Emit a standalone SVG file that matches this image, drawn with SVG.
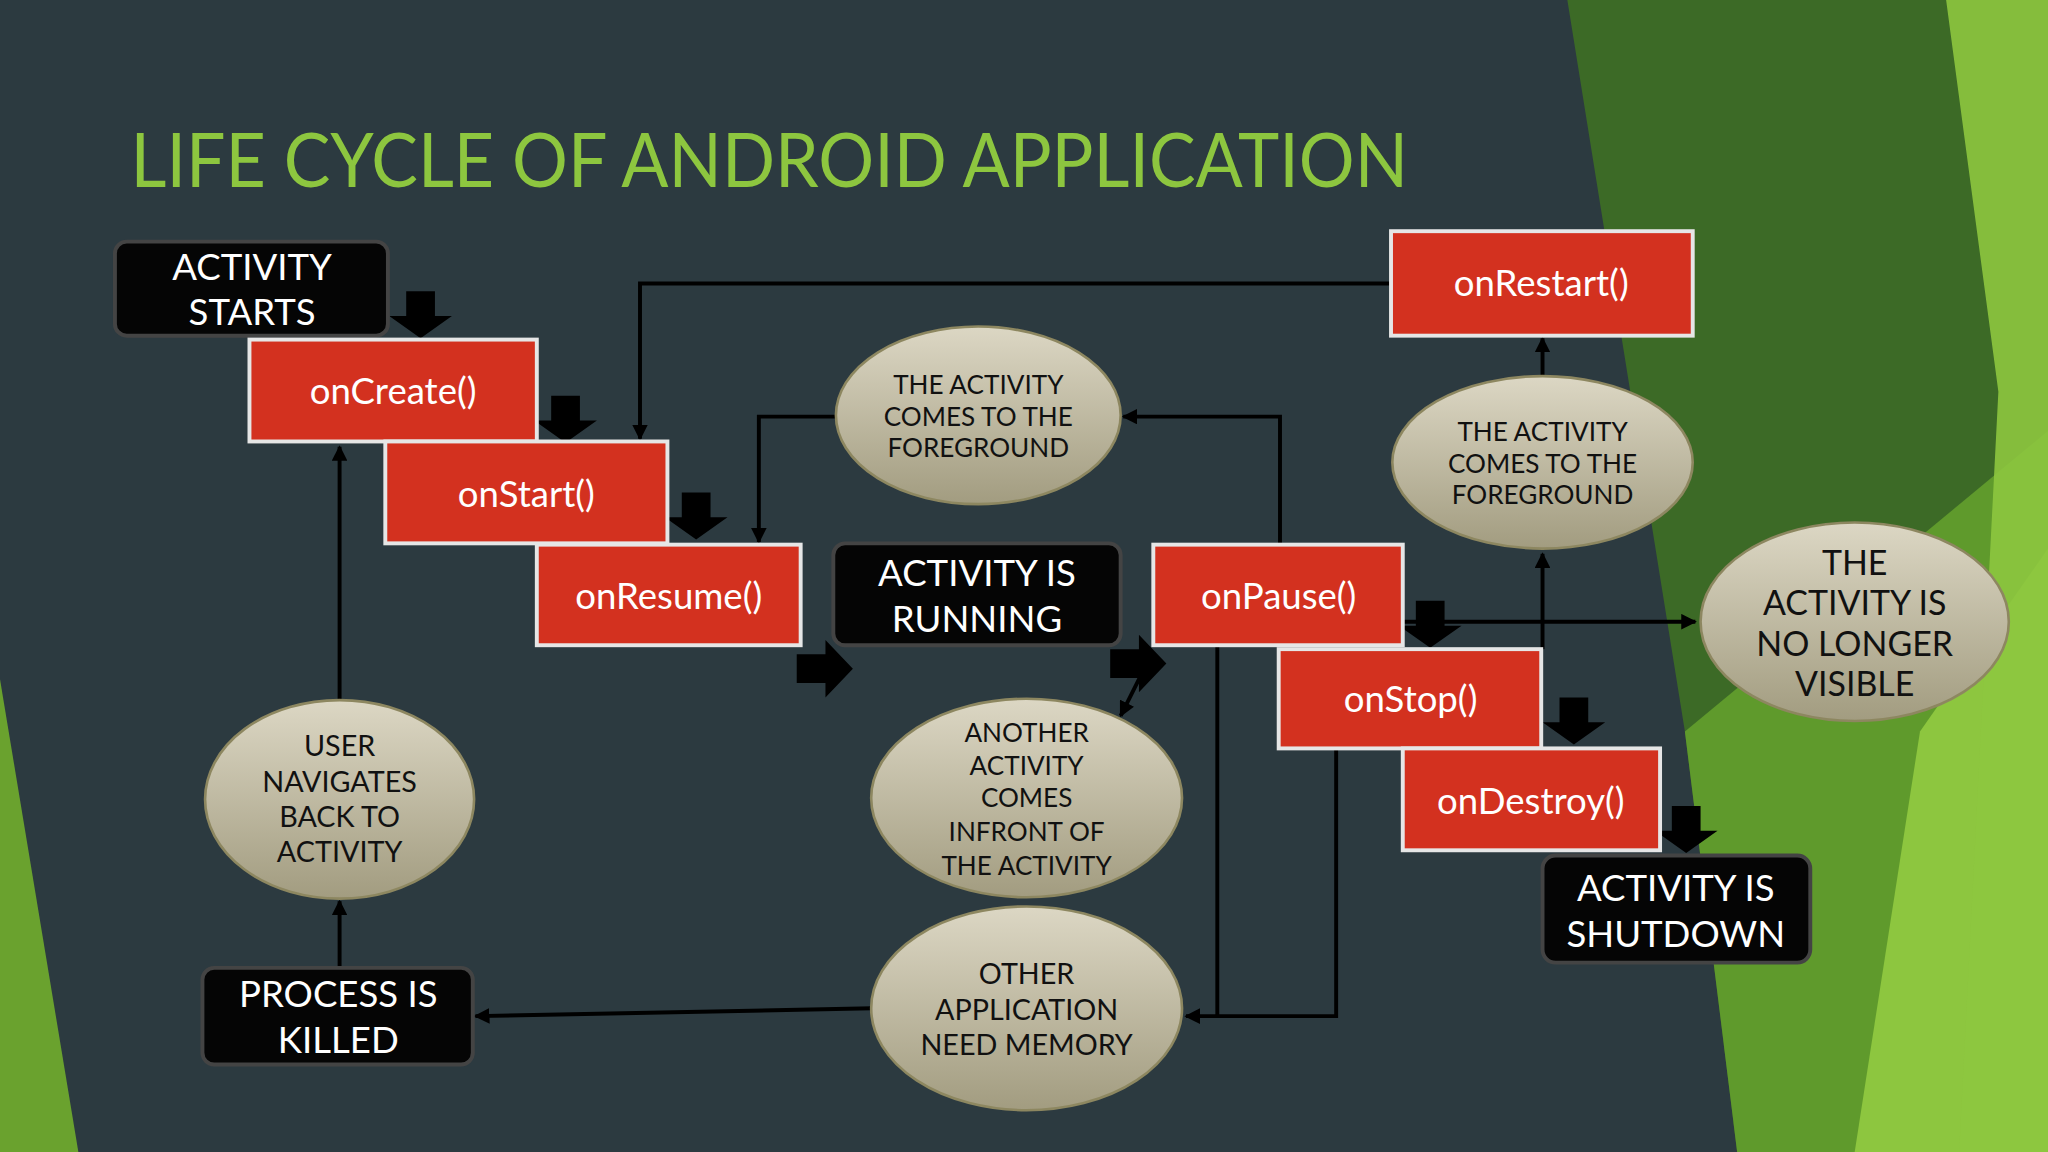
<svg xmlns="http://www.w3.org/2000/svg" width="2048" height="1152" viewBox="0 0 2048 1152">
<defs>
<style>
.t{font-family:Lato,"Open Sans","Liberation Sans",sans-serif;text-anchor:middle}
.red rect{fill:#d3311f;stroke:#e6e6e6;stroke-width:3}
.red text{fill:#fff;font-size:28px}
.blk rect{fill:#050505;stroke:#444;stroke-width:3}
.blk text{fill:#fff;font-size:28px}
.ell ellipse{fill:url(#eg);stroke:#8d8760;stroke-width:2}
.ell text{fill:#111;font-size:20px}
.ell text.l{font-size:26px}
.ell text.m{font-size:22px}
.ln{fill:none;stroke:#000;stroke-width:3}
.ba{fill:#000}
</style>
<linearGradient id="eg" x1="0" y1="0" x2="0" y2="1"><stop offset="0" stop-color="#dcd7c4"/><stop offset="1" stop-color="#a29c80"/></linearGradient>
<marker id="a" viewBox="0 0 10 10" refX="9" refY="5" markerWidth="4" markerHeight="4" orient="auto-start-reverse"><path d="M0,0L10,5L0,10z" fill="#000"/></marker>
</defs>
<g transform="scale(1.30612)">
<rect width="1568" height="882" fill="#2c3a40"/>
<polygon points="1200,0 1568,0 1568,882 1330,882 1290,560" fill="#3c6a26"/>
<polygon points="1290,560 1568,330 1568,882 1330,882" fill="#5f9a2c"/>
<polygon points="1420,882 1470,560 1568,420 1568,882" fill="#8dc63f"/>
<polygon points="1490,0 1568,0 1568,882 1500,882 1530,300" fill="#8dc63f" opacity="0.9"/>
<polygon points="0,520 60,882 0,882" fill="#6aa22e"/>
<text x="100" y="143" font-family="Lato,'Open Sans','Liberation Sans',sans-serif" font-size="58" fill="#8dc63f" textLength="978" lengthAdjust="spacingAndGlyphs">LIFE CYCLE OF ANDROID APPLICATION</text>

<g id="connectors">
<path class="ln" d="M1065,217H490V336" marker-end="url(#a)"/>
<path class="ln" d="M640,319H581V415" marker-end="url(#a)"/>
<path class="ln" d="M980,417V319H860" marker-end="url(#a)"/>
<path class="ln" d="M1181,497V424" marker-end="url(#a)"/>
<path class="ln" d="M1181,290V259" marker-end="url(#a)"/>
<path class="ln" d="M1074,476H1298" marker-end="url(#a)"/>
<path class="ln" d="M882,500L858,548" marker-end="url(#a)"/>
<path class="ln" d="M932,494V778"/>
<path class="ln" d="M1023,573V778H908" marker-end="url(#a)"/>
<path class="ln" d="M668,772L364,778" marker-end="url(#a)"/>
<path class="ln" d="M260,741V690" marker-end="url(#a)"/>
<path class="ln" d="M260,536V342" marker-end="url(#a)"/>
<g class="ba">
<path d="M311,223h22v19h13l-24,17l-24,-17h13z"/>
<path d="M422,303h22v19h13l-24,17l-24,-17h13z"/>
<path d="M522,377h22v19h13l-24,17l-24,-17h13z"/>
<path d="M1084,460h22v19h13l-24,17l-24,-17h13z"/>
<path d="M1194,534h22v19h13l-24,17l-24,-17h13z"/>
<path d="M1280,617h22v19h13l-24,17l-24,-17h13z"/>
<path d="M610,501v22h22v11l21,-22l-21,-22v11z"/>
<path d="M850,497v22h22v11l21,-22l-21,-22v11z"/>
</g>
</g>

<g id="n-start" class="blk t"><rect x="88" y="185" width="209" height="72" rx="9"/><text x="193" y="214">ACTIVITY</text><text x="193" y="249">STARTS</text></g>
<g id="n-oncreate" class="red t"><rect x="191" y="260" width="220" height="78"/><text x="301" y="309">onCreate()</text></g>
<g id="n-onstart" class="red t"><rect x="295" y="338" width="216" height="78"/><text x="403" y="388">onStart()</text></g>
<g id="n-onresume" class="red t"><rect x="411" y="417" width="202" height="77"/><text x="512" y="466">onResume()</text></g>
<g id="n-running" class="blk t"><rect x="638" y="416" width="220" height="78" rx="9"/><text x="748" y="449">ACTIVITY IS</text><text x="748" y="484">RUNNING</text></g>
<g id="n-onpause" class="red t"><rect x="883" y="417" width="191" height="77"/><text x="979" y="466">onPause()</text></g>
<g id="n-onstop" class="red t"><rect x="979" y="497" width="201" height="76"/><text x="1080" y="545">onStop()</text></g>
<g id="n-ondestroy" class="red t"><rect x="1074" y="573" width="197" height="78"/><text x="1172" y="623">onDestroy()</text></g>
<g id="n-shutdown" class="blk t"><rect x="1181" y="655" width="205" height="82" rx="10"/><text x="1283" y="690">ACTIVITY IS</text><text x="1283" y="725">SHUTDOWN</text></g>
<g id="n-onrestart" class="red t"><rect x="1065" y="177" width="231" height="80"/><text x="1180" y="227">onRestart()</text></g>
<g id="n-killed" class="blk t"><rect x="155" y="741" width="207" height="74" rx="9"/><text x="259" y="771">PROCESS IS</text><text x="259" y="806">KILLED</text></g>

<g id="e-fg1" class="ell t"><ellipse cx="749" cy="318" rx="109" ry="68"/><text x="749" y="302">THE ACTIVITY</text><text x="749" y="326">COMES TO THE</text><text x="749" y="350">FOREGROUND</text></g>
<g id="e-fg2" class="ell t"><ellipse cx="1181" cy="354" rx="115" ry="66"/><text x="1181" y="338">THE ACTIVITY</text><text x="1181" y="362">COMES TO THE</text><text x="1181" y="386">FOREGROUND</text></g>
<g id="e-novis" class="ell t"><ellipse cx="1420" cy="476" rx="118" ry="76"/><text class="l" x="1420" y="440">THE</text><text class="l" x="1420" y="471">ACTIVITY IS</text><text class="l" x="1420" y="502">NO LONGER</text><text class="l" x="1420" y="533">VISIBLE</text></g>
<g id="e-user" class="ell t"><ellipse cx="260" cy="612" rx="103" ry="76"/><text class="m" x="260" y="579">USER</text><text class="m" x="260" y="606">NAVIGATES</text><text class="m" x="260" y="633">BACK TO</text><text class="m" x="260" y="660">ACTIVITY</text></g>
<g id="e-another" class="ell t"><ellipse cx="786" cy="611" rx="119" ry="76"/><text x="786" y="568">ANOTHER</text><text x="786" y="593">ACTIVITY</text><text x="786" y="618">COMES</text><text x="786" y="644">INFRONT OF</text><text x="786" y="670">THE ACTIVITY</text></g>
<g id="e-memory" class="ell t"><ellipse cx="786" cy="772" rx="119" ry="78"/><text class="m" x="786" y="753">OTHER</text><text class="m" x="786" y="781">APPLICATION</text><text class="m" x="786" y="808">NEED MEMORY</text></g>
</g>
</svg>
